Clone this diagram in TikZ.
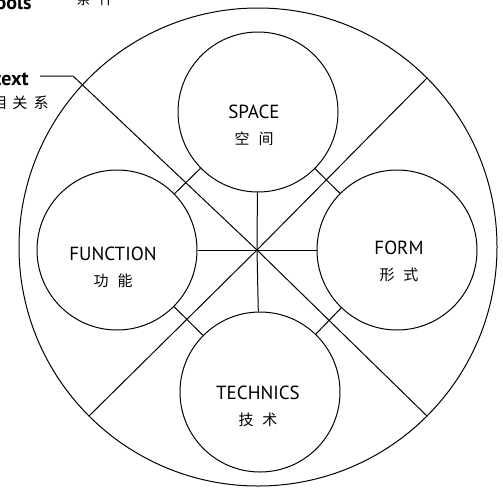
\documentclass[tikz,border=0pt]{standalone}
\usepackage{fontspec}
\setmainfont{PT Sans}
\newfontfamily\cjk{Noto Sans CJK SC}
\usetikzlibrary{positioning}

\begin{document}
\begin{tikzpicture}[
    x=1pt, y=-1pt,
    line width=1pt,
    ring/.style={circle, draw, minimum size=478pt, inner sep=0pt},
    aspect/.style={circle, draw, minimum size=160pt, inner sep=0pt},
    tag/.style={font=\fontsize{19}{22}\selectfont, align=center, inner sep=0pt},
    note/.style={font=\bfseries\fontsize{20}{24}\selectfont, inner sep=0pt},
    cn/.style={font=\cjk\fontsize{15}{17}\selectfont, inner sep=0pt}
]
    \useasboundingbox (0,0) rectangle (503,490);
    \clip (0,0) rectangle (503,490);

    % outer ring and the four aspects
    \coordinate (hub) at (257,250);
    \node[ring] (outer) at (258,247) {};
    \node[aspect] (space) at (258,112) {};
    \node[aspect] (form) at (397,250) {};
    \node[aspect] (technics) at (260,392) {};
    \node[aspect] (function) at (117,250) {};

    \node[tag] (spacetxt) at (254,125) {SPACE\\[4pt]{\cjk\fontsize{15}{17}\selectfont 空\hspace{9pt}间}};
    \node[tag] (formtxt) at (399,261) {FORM\\[4pt]{\cjk\fontsize{15}{17}\selectfont 形\hspace{9pt}式}};
    \node[tag] (technicstxt) at (258,406) {TECHNICS\\[4pt]{\cjk\fontsize{15}{17}\selectfont 技\hspace{9pt}术}};
    \node[tag] (functiontxt) at (113,267) {FUNCTION\\[4pt]{\cjk\fontsize{15}{17}\selectfont 功\hspace{9pt}能}};

    % cut-off notes at the top left
    \node[note, anchor=base east] (tools) at (32,9.5) {Tools};
    \node[cn, anchor=south] (terms) at (95,6) {条\hspace{8pt}件};
    \node[note, anchor=base east] (context) at (29,85) {Context};
    \node[cn, anchor=base east] (relation) at (49,108) {互\hspace{6pt}相\hspace{6pt}关\hspace{6pt}系};

    % diagonals
    \coordinate (kink) at (73,76);
    \coordinate (ctxend) at (40,76);
    \draw (hub) -- (kink) -- (ctxend);
    \draw (hub) -- (outer.45);
    \draw (hub) -- (outer.-45);
    \draw (hub) -- (outer.-135);

    % spokes
    \draw (hub) -- (space);
    \draw (hub) -- (form);
    \draw (hub) -- (technics);
    \draw (hub) -- (function);

    % links between neighbours
    \draw (space) -- (form);
    \draw (form) -- (technics);
    \draw (technics) -- (function);
    \draw (function) -- (space);
\end{tikzpicture}
\end{document}
